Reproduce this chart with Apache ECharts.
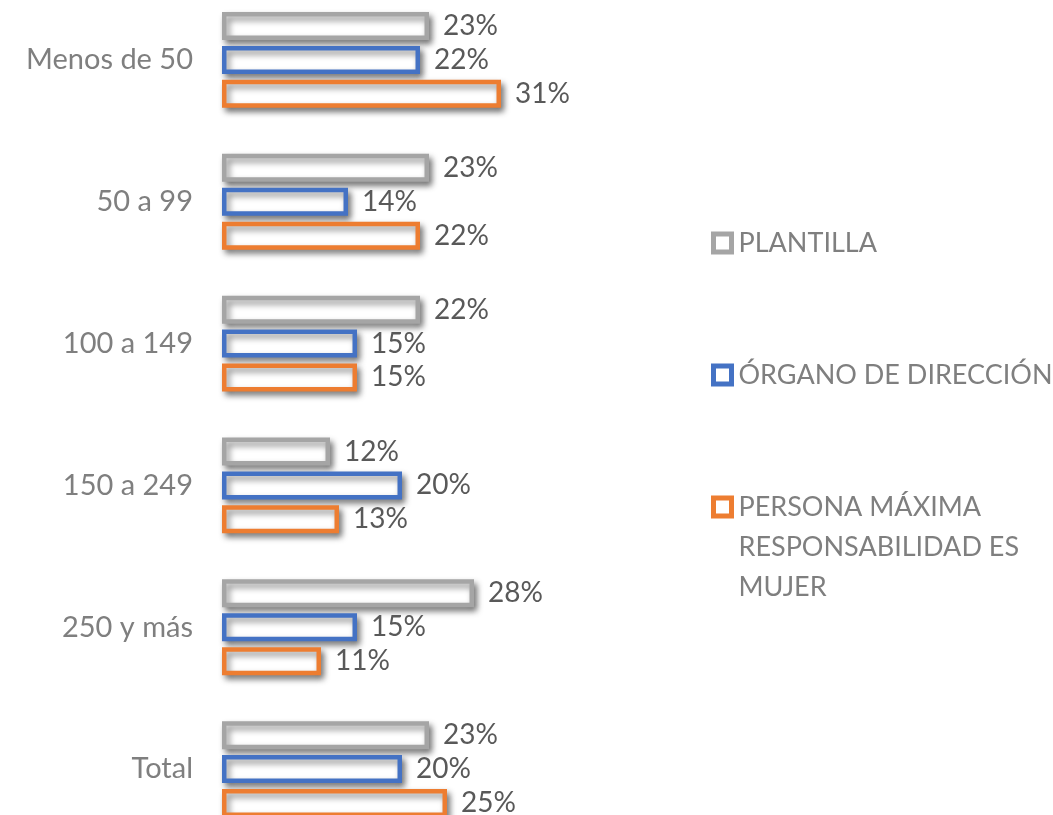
<!DOCTYPE html>
<html>
<head>
<meta charset="utf-8">
<script src="https://cdn.jsdelivr.net/npm/echarts@6/dist/echarts.min.js"></script>
<style>
    html, body { margin: 0; padding: 0; background: #fff; }
    #chart { width: 1053px; height: 815px; }
</style>
</head>
<body>
<div id="chart"></div>
<script>
// datos
const categorias = ['Menos de 50', '50 a 99', '100 a 149', '150 a 249', '250 y más', 'Total']
const nombres = ['PLANTILLA', 'ÓRGANO DE DIRECCIÓN', 'PERSONA MÁXIMA RESPONSABILIDAD ES MUJER']
const plantilla = [23, 23, 22, 12, 28, 23]
const organo = [22, 14, 15, 20, 15, 20]
const persona = [31, 22, 15, 13, 11, 25]
const colores = ['#A5A5A5', '#4472C4', '#ED7D31']

const FONT = 'Lato'

// corta el texto de la leyenda en líneas de 20 caracteres como máximo
function partir(txt) {
    const lineas = []
    let linea = ''
    txt.split(' ').forEach(p => {
        if (linea && (linea + ' ' + p).length > 20) {
            lineas.push(linea)
            linea = p
        } else {
            linea = linea ? linea + ' ' + p : p
        }
    })
    lineas.push(linea)
    return lineas
}

function serie(nombre, datos, color) {
    return {
        name: nombre,
        type: 'bar',
        data: datos,
        barWidth: 28,
        barGap: '21%',
        itemStyle: {
            color: '#fff',
            borderColor: color,
            borderWidth: 4.5,
            shadowColor: 'rgba(0,0,0,0.45)',
            shadowBlur: 6,
            shadowOffsetX: 3,
            shadowOffsetY: 4
        },
        label: {
            show: true,
            position: 'right',
            distance: 14,
            formatter: '{c}%',
            color: '#595959',
            fontFamily: FONT,
            fontSize: 28
        }
    }
}

// una leyenda por serie para poder colocarlas como en el original;
// las líneas vacías delante dejan el icono a la altura de la primera línea
const centrosLeyenda = [243, 375, 507]
const leyendas = nombres.map((n, i) => {
    const lineas = partir(n)
    const extra = (lineas.length - 1) * 40
    const vacias = '\n'.repeat(lineas.length - 1)
    return {
        orient: 'vertical',
        left: 711,
        top: centrosLeyenda[i] - 20 - extra,
        padding: 0,
        icon: 'rect',
        itemWidth: 18,
        itemHeight: 18,
        selectedMode: false,
        itemStyle: {
            borderWidth: 5,
            shadowBlur: 0,
            shadowColor: 'transparent'
        },
        formatter: name => vacias + partir(name).join('\n'),
        textStyle: {
            color: '#7F7F7F',
            fontFamily: FONT,
            fontSize: 27,
            lineHeight: 40,
            padding: [0, 0, 0, 2]
        },
        data: [n]
    }
})

const chart = echarts.init(document.getElementById('chart'))
chart.setOption({
    animation: false,
    backgroundColor: '#fff',
    legend: leyendas,
    grid: {
        left: 222,
        width: 360,
        top: -11,
        bottom: -25,
        outerBoundsMode: 'none'
    },
    xAxis: {
        type: 'value',
        min: 0,
        max: 40,
        show: false
    },
    yAxis: {
        type: 'category',
        data: categorias,
        inverse: true,
        axisLine: { show: false },
        axisTick: { show: false },
        axisLabel: {
            margin: 29,
            color: '#7F7F7F',
            fontFamily: FONT,
            fontSize: 29
        }
    },
    series: [
        serie(nombres[0], plantilla, colores[0]),
        serie(nombres[1], organo, colores[1]),
        serie(nombres[2], persona, colores[2])
    ]
})
</script>
</body>
</html>
